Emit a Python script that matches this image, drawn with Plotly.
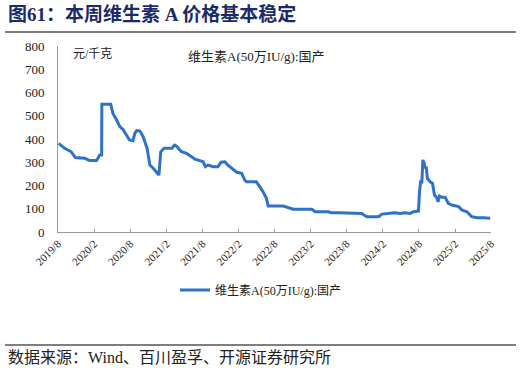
import plotly.graph_objects as go

# ---- data ----
dates = [
    "2019-08-04", "2019-09-04", "2019-10-07", "2019-10-28", "2019-12-14", "2020-01-09",
    "2020-02-12", "2020-02-28", "2020-03-09", "2020-03-10", "2020-04-24", "2020-05-05",
    "2020-05-22", "2020-06-09", "2020-06-25", "2020-07-15", "2020-07-28", "2020-08-15",
    "2020-08-24", "2020-09-02", "2020-09-19", "2020-10-05", "2020-10-25", "2020-11-08",
    "2020-11-25", "2020-12-24", "2021-01-02", "2021-01-19", "2021-02-28", "2021-03-13",
    "2021-03-22", "2021-04-17", "2021-05-13", "2021-06-07", "2021-06-24", "2021-07-19",
    "2021-08-05", "2021-08-16", "2021-08-30", "2021-09-25", "2021-10-19", "2021-11-03",
    "2021-11-23", "2021-12-07", "2022-01-04", "2022-01-22", "2022-02-16", "2022-03-03",
    "2022-03-12", "2022-05-01", "2022-05-18", "2022-06-04", "2022-06-21", "2022-06-30",
    "2022-09-14", "2022-10-09", "2022-11-04", "2023-02-06", "2023-02-23", "2023-04-30",
    "2023-05-16", "2023-06-28", "2023-08-27", "2023-10-16", "2023-11-11", "2024-01-10",
    "2024-01-27", "2024-02-29", "2024-04-02", "2024-04-28", "2024-05-22", "2024-06-18",
    "2024-07-04", "2024-07-30", "2024-08-04", "2024-08-11", "2024-08-16", "2024-08-21",
    "2024-08-28", "2024-09-02", "2024-09-07", "2024-09-13", "2024-09-27", "2024-10-09",
    "2024-10-19", "2024-11-01", "2024-11-06", "2024-11-13", "2024-11-25", "2024-12-12",
    "2024-12-28", "2025-01-15", "2025-02-18", "2025-03-06", "2025-04-01", "2025-04-25",
    "2025-05-22", "2025-06-25", "2025-07-28",
]
prices = [
    381, 360, 345, 320, 317, 307,
    307, 331, 331, 550, 550, 510,
    485, 453, 441, 410, 396, 393,
    424, 436, 434, 410, 360, 288,
    274, 245, 345, 360, 360, 374,
    370, 345, 338, 324, 313, 307,
    302, 281, 288, 281, 281, 300,
    302, 288, 271, 257, 252, 224,
    216, 216, 195, 173, 145, 112,
    112, 106, 98, 98, 87, 87,
    83, 83, 80, 80, 66, 66,
    77, 80, 83, 80, 83, 80,
    87, 90, 173, 224, 209, 310,
    295, 274, 281, 231, 216, 209,
    159, 145, 130, 155, 149, 149,
    123, 116, 109, 95, 87, 66,
    61, 61, 59,
]
series_name = "维生素A(50万IU/g):国产"
tick_dates = ["2019-08-01", "2020-02-01", "2020-08-01", "2021-02-01", "2021-08-01",
              "2022-02-01", "2022-08-01", "2023-02-01", "2023-08-01", "2024-02-01",
              "2024-08-01", "2025-02-01", "2025-08-01"]
tick_labels = ["2019/8", "2020/2", "2020/8", "2021/2", "2021/8", "2022/2", "2022/8",
               "2023/2", "2023/8", "2024/2", "2024/8", "2025/2", "2025/8"]
y_ticks = [0, 100, 200, 300, 400, 500, 600, 700, 800]

title_text = "图61：本周维生素 A 价格基本稳定"
unit_text = "元/千克"
source_text = "数据来源：Wind、百川盈孚、开源证券研究所"

# ---- layout helpers (pixel -> paper) ----
L, R, T, B = 58, 30, 46, 143
W, H = 521, 375
PW, PH = W - L - R, H - T - B


def px(x):
    return (x - L) / PW


def py(y):
    return (H - B - y) / PH


SERIF = "Liberation Serif, Noto Sans CJK SC, serif"
CJK = "Liberation Serif, Noto Sans CJK SC, sans-serif"

fig = go.Figure()
fig.add_trace(go.Scatter(
    x=dates, y=prices, mode="lines", name=series_name,
    line=dict(color="#2F73C9", width=3),
))

fig.update_layout(
    width=W, height=H,
    margin=dict(l=L, r=R, t=T, b=B),
    paper_bgcolor="white", plot_bgcolor="white",
    showlegend=True,
    legend=dict(
        orientation="h", x=px(175), y=py(290), xanchor="left", yanchor="middle",
        font=dict(family=CJK, size=12, color="#222"),
        bgcolor="rgba(0,0,0,0)",
    ),
    xaxis=dict(
        type="date", range=["2019-08-01", "2025-08-01"],
        tickvals=tick_dates, ticktext=tick_labels, tickangle=-45,
        tickfont=dict(family=SERIF, size=11, color="#222"),
        showgrid=False, zeroline=False,
        showline=True, linecolor="#9a9a9a", linewidth=1,
        ticks="inside", ticklen=3, tickcolor="#9a9a9a",
    ),
    yaxis=dict(
        range=[0, 800], tickvals=y_ticks,
        tickfont=dict(family=SERIF, size=13, color="#222"),
        showgrid=False, zeroline=False,
        showline=True, linecolor="#9a9a9a", linewidth=1,
        ticks="", ticklabelstandoff=10,
    ),
    annotations=[
        dict(text="<b>" + title_text + "</b>", xref="paper", yref="paper",
             x=px(6), y=py(14), xanchor="left", yanchor="middle", showarrow=False,
             font=dict(family=CJK, size=19, color="#1B2A6B")),
        dict(text=unit_text, xref="paper", yref="paper",
             x=px(71), y=py(54), xanchor="left", yanchor="middle", showarrow=False,
             font=dict(family=CJK, size=12, color="#222")),
        dict(text=series_name, xref="paper", yref="paper",
             x=px(186), y=py(57), xanchor="left", yanchor="middle", showarrow=False,
             font=dict(family=CJK, size=13, color="#222")),
        dict(text=source_text, xref="paper", yref="paper",
             x=px(6), y=py(358), xanchor="left", yanchor="middle", showarrow=False,
             font=dict(family=CJK, size=16, color="#222")),
    ],
    shapes=[
        dict(type="line", xref="paper", yref="paper", x0=px(5), x1=px(516),
             y0=py(32), y1=py(32), line=dict(color="#7f7f7f", width=2)),
        dict(type="line", xref="paper", yref="paper", x0=px(5), x1=px(516),
             y0=py(345), y1=py(345), line=dict(color="#7f7f7f", width=2)),
    ],
)

fig.write_html("out.html", config={"displayModeBar": False},
               post_script="document.body.style.margin='0';")
